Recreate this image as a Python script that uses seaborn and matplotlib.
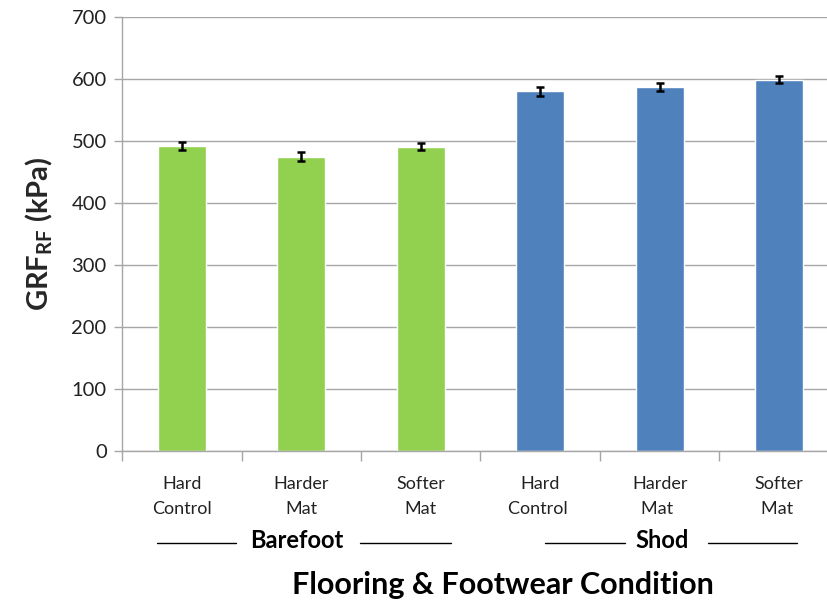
import matplotlib
matplotlib.use("Agg")
import matplotlib.pyplot as plt
import matplotlib.transforms as mtransforms
import seaborn as sns
import pandas as pd

# values
conditions = ["Hard\nControl", "Harder\nMat", "Softer\nMat",
              "Hard\nControl ", "Harder\nMat ", "Softer\nMat "]
footwear = ["Barefoot"] * 3 + ["Shod"] * 3
grf = [492, 475, 491, 580, 587, 599]
grf_err = [7, 7, 5, 7, 7, 6]
yticks = [0, 100, 200, 300, 400, 500, 600, 700]

sns.set_theme(style="white")
plt.rcParams["font.family"] = ["Lato", "DejaVu Sans"]
plt.rcParams["mathtext.fontset"] = "custom"
plt.rcParams["mathtext.bf"] = "Lato:bold"
plt.rcParams["mathtext.rm"] = "Lato"

df = pd.DataFrame({"condition": conditions, "footwear": footwear, "grf": grf})

fig = plt.figure(figsize=(8.27, 6.03), dpi=100)
ax = fig.add_axes([122 / 827, 152 / 603, 717 / 827, 434 / 603])

sns.barplot(data=df, x="condition", y="grf", hue="footwear",
            palette={"Barefoot": "#92D050", "Shod": "#4F81BD"},
            dodge=False, width=0.4, errorbar=None, legend=False, ax=ax,
            saturation=1)

xs = [p.get_x() + p.get_width() / 2 for p in ax.patches if p.get_height() > 0]
ax.errorbar(xs, grf, yerr=grf_err, fmt="none", ecolor="black",
            elinewidth=1.8, capsize=3, capthick=1.8, zorder=5)

ax.set_ylim(0, 700)
ax.set_xlim(-0.5, 5.5)
ax.set_yticks(yticks)
ax.yaxis.grid(True, color="#A6A6A6", linewidth=1)
ax.set_axisbelow(True)
for s in ["top", "right"]:
    ax.spines[s].set_visible(False)
for s in ["left", "bottom"]:
    ax.spines[s].set_color("#A6A6A6")
    ax.spines[s].set_linewidth(1)

ax.tick_params(axis="y", which="major", left=True, length=6, width=1,
               color="#A6A6A6", labelsize=14.5, labelcolor="#222222", pad=5)
ax.set_xticks(range(6))
ax.set_xticklabels(conditions, fontsize=13, linespacing=1.7, color="#222222")
ax.tick_params(axis="x", which="major", length=0, pad=18)
ax.set_xticks([i - 0.5 for i in range(7)], minor=True)
ax.tick_params(axis="x", which="minor", bottom=True, length=7, width=1,
               color="#A6A6A6")

ax.set_xlabel("")
ax.set_ylabel(r"$\mathbf{GRF_{RF}}$ (kPa)", fontsize=21, fontweight="bold",
              labelpad=12)

# group labels with side rules (x in category units)
trans = mtransforms.blended_transform_factory(ax.transData, fig.transFigure)
groups = [("Barefoot", 0.96, (-0.21, 0.45), (1.49, 2.25)),
          ("Shod", 4.02, (3.04, 3.71), (4.40, 5.15))]
for name, cx, seg1, seg2 in groups:
    ax.text(cx, 1 - 540 / 603, name, transform=trans, ha="center", va="center",
            fontsize=17, fontweight="bold", color="black")
    for a, b in (seg1, seg2):
        ax.plot([a, b], [1 - 543 / 603] * 2, transform=trans,
                color="black", linewidth=1, clip_on=False)

fig.text(503 / 827, 1 - 585 / 603, "Flooring & Footwear Condition",
         ha="center", va="center", fontsize=22, fontweight="bold",
         color="black")

fig.savefig("out.png", dpi=100)
